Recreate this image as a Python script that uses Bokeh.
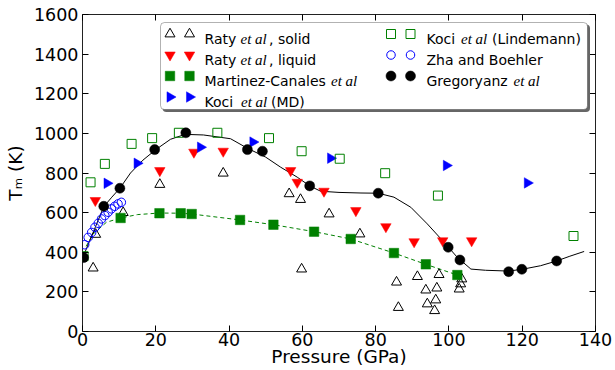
import numpy as np
from bokeh.plotting import figure
from bokeh.models import Range1d, LinearAxis, FixedTicker, BoxAnnotation, Label
from bokeh.embed import file_html
from bokeh.resources import INLINE

# ---------------- data ----------------
x_ticks = [0, 20, 40, 60, 80, 100, 120, 140]
y_ticks = [0, 200, 400, 600, 800, 1000, 1200, 1400, 1600]

raty_solid_p = [2.9, 3.6, 11.1, 21.1, 38.4, 56.4, 59.5, 59.8, 67.3, 75.7, 85.7, 86.2,
                91.4, 93.7, 94.1, 96.1, 96.4, 96.7, 97.3, 102.8, 103.2, 103.5]
raty_solid_t = [320, 490, 600, 742, 799, 695, 666, 315, 593, 492, 249, 121,
                277, 209, 139, 105, 159, 219, 287, 214, 240, 265]

raty_liquid_p = [3.5, 21.1, 30.4, 38.4, 56.8, 58.6, 65.9, 74.6, 82.8, 90.5, 98.3, 106.2]
raty_liquid_t = [661, 812, 905, 910, 812, 753, 708, 610, 529, 453, 458, 458]

martinez_p = [10.4, 21.0, 26.8, 29.8, 43.0, 52.1, 63.2, 73.2, 85.0, 93.7, 102.3]
martinez_t = [573, 597, 597, 593, 563, 539, 504, 467, 396, 339, 285]

martinez_fit_p = [1.0, 2.9, 6.5, 10.4, 15.0, 21.0, 26.8, 29.8, 43.0, 52.1, 63.2, 73.2, 85.0, 93.7, 102.3]
martinez_fit_t = [430, 492, 551, 573, 590, 598, 597, 593, 563, 539, 504, 467, 396, 339, 285]

koci_md_p = [6.7, 14.9, 32.2, 46.5, 67.7, 99.3, 121.4]
koci_md_t = [748, 849, 930, 956, 875, 838, 750]

koci_lind_p = [0.3, 2.2, 6.1, 13.4, 19.0, 26.3, 36.8, 50.9, 59.8, 70.2, 82.6, 97.0, 134.0]
koci_lind_t = [380, 753, 846, 947, 976, 1003, 1003, 976, 910, 872, 799, 686, 482]

zha_p = [0.6, 1.55, 2.5, 3.4, 4.3, 5.2, 6.1, 7.0, 7.9, 8.8, 9.7, 10.6]
zha_t = [438, 475, 500, 526, 546, 568, 585, 602, 619, 632, 644, 652]

greg_p = [0.3, 5.8, 10.2, 19.7, 28.2, 45.0, 49.1, 62.0, 80.7, 99.8, 103.0, 116.3, 119.9, 129.4]
greg_t = [373, 632, 723, 918, 1003, 918, 910, 735, 698, 425, 361, 302, 314, 356]

greg_fit_p = [0.0, 2.9, 5.8, 8.0, 10.2, 13.1, 16.5, 20.0, 24.0, 28.0, 33.0, 40.4, 45.0, 50.0,
              54.1, 58.6, 62.0, 65.0, 70.0, 76.0, 80.7, 85.0, 89.6, 94.1, 98.7, 102.3, 106.0,
              110.0, 116.3, 120.0, 125.0, 129.4, 133.0, 136.9]
greg_fit_t = [370, 500, 630, 678, 723, 800, 865, 918, 970, 995, 992, 973, 925, 880,
              829, 779, 735, 708, 702, 699, 698, 678, 627, 543, 450, 374, 315,
              309, 305, 314, 332, 356, 380, 404]

x_label = "Pressure (GPa)"
y_label = "T\u2098 (K)"

# ---------------- figure ----------------
W, H = 615, 370
p = figure(width=W, height=H, x_range=Range1d(0, 140), y_range=Range1d(0, 1600),
           output_backend="svg", toolbar_location=None,
           min_border_left=82, min_border_right=20, min_border_top=14, min_border_bottom=39)
p.grid.visible = False
p.outline_line_color = "#222222"
p.outline_line_width = 1
p.background_fill_color = "white"
p.border_fill_color = "white"

TICK_FONT = "17.5px"
for ax in (p.xaxis[0], p.yaxis[0]):
    ax.major_tick_in = 6
    ax.major_tick_out = 0
    ax.minor_tick_line_color = None
    ax.axis_line_color = None
    ax.major_tick_line_color = "black"
    ax.major_label_text_font = "DejaVu Sans"
    ax.major_label_text_font_size = TICK_FONT
    ax.major_label_text_color = "black"
    ax.axis_label_text_font = "DejaVu Sans"
    ax.axis_label_text_font_size = "18.5px"
    ax.axis_label_text_font_style = "normal"
    ax.axis_label_text_color = "black"
p.xaxis.ticker = FixedTicker(ticks=x_ticks)
p.yaxis.ticker = FixedTicker(ticks=y_ticks)
p.xaxis.major_label_standoff = 1
p.yaxis.major_label_standoff = 4
p.xaxis.axis_label = x_label
p.yaxis.axis_label = y_label
p.xaxis.axis_label_standoff = -3
p.yaxis.axis_label_standoff = 5

top_ax = LinearAxis(ticker=FixedTicker(ticks=x_ticks))
right_ax = LinearAxis(ticker=FixedTicker(ticks=y_ticks))
for ax in (top_ax, right_ax):
    ax.major_tick_in = 6
    ax.major_tick_out = 0
    ax.minor_tick_line_color = None
    ax.axis_line_color = None
    ax.major_label_text_font_size = "0px"
    ax.major_label_standoff = 0
    ax.major_label_text_alpha = 0
p.add_layout(top_ax, "above")
p.add_layout(right_ax, "right")

GREEN = "#008000"
BLUE = "#0000ff"
RED = "#ff0000"

# fit lines
p.line(martinez_fit_p, martinez_fit_t, line_color=GREEN, line_width=1, line_dash="4 3")
p.line(greg_fit_p, greg_fit_t, line_color="black", line_width=1)

# markers
st_solid = dict(marker="triangle", size=10, fill_color=None, line_color="black", line_width=1)
st_liq = dict(marker="inverted_triangle", size=10.5, fill_color=RED, line_color=RED, line_width=0.5)
st_mart = dict(marker="square", size=9.5, fill_color=GREEN, line_color=GREEN, line_width=0.5)
st_md = dict(marker="triangle", size=10.5, angle=-np.pi / 2, fill_color=BLUE, line_color=BLUE, line_width=0.5)
st_lind = dict(marker="square", size=9, fill_color=None, line_color=GREEN, line_width=1)
st_zha = dict(marker="circle", size=8.5, fill_color=None, line_color=BLUE, line_width=1)
st_greg = dict(marker="circle", size=10, fill_color="black", line_color="black", line_width=0.5)

p.scatter(raty_solid_p, raty_solid_t, **st_solid)
p.scatter(raty_liquid_p, raty_liquid_t, **st_liq)
p.scatter(martinez_p, martinez_t, **st_mart)
p.scatter(koci_md_p, koci_md_t, **st_md)
p.scatter(koci_lind_p, koci_lind_t, **st_lind)
p.scatter(zha_p, zha_t, **st_zha)
p.scatter(greg_p, greg_t, **st_greg)

# ---------------- helpers: screen position (reference pixels) -> data ----------------
FL, FR, FT, FB = 82.0, 595.0, 14.0, 331.0
def dx(px):
    return (px - FL) * 140.0 / (FR - FL)
def dy(py):
    return (FB - py) * 1600.0 / (FB - FT)

# ---------------- legend (manual, two columns, two points per entry) ----------------
p.add_layout(BoxAnnotation(left=dx(162), right=dx(589.5), top=dy(24), bottom=dy(111.5),
                           fill_color="#666666", fill_alpha=1, line_color=None, border_radius=4))
p.add_layout(BoxAnnotation(left=dx(160), right=dx(587), top=dy(22), bottom=dy(109),
                           fill_color="white", fill_alpha=1, line_color="black", line_width=1,
                           border_radius=4))

SANS = "DejaVu Sans"
SERIF = "Liberation Serif"
LFS = "14px"
EFS = "15px"

rows = [33.5, 54.5, 75.5, 96.5]
col1_m = [169.5, 189.0]
col2_m = [390.5, 410.0]

def leg_markers(xs, yrow, style):
    p.scatter([dx(x) for x in xs], [dy(yrow)] * len(xs), level="overlay", **style)

def txt(px, py, s, font=SANS, size=LFS, style="normal"):
    p.add_layout(Label(x=dx(px), y=dy(py), text=s, text_font=font, text_font_size=size,
                       text_font_style=style, text_align="left", text_baseline="alphabetic",
                       text_color="black", level="overlay"))

leg_markers(col1_m, rows[0], st_solid)
leg_markers(col1_m, rows[1], st_liq)
leg_markers(col1_m, rows[2], st_mart)
leg_markers(col1_m, rows[3], st_md)
leg_markers(col2_m, rows[0], st_lind)
leg_markers(col2_m, rows[1], st_zha)
leg_markers(col2_m, rows[2], st_greg)

b = [r + 4.6 for r in rows]
txt(204, b[0], "Raty"); txt(240, b[0], "et al", SERIF, EFS, "italic"); txt(268.5, b[0], ", solid")
txt(204, b[1], "Raty"); txt(240, b[1], "et al", SERIF, EFS, "italic"); txt(268.5, b[1], ", liquid")
txt(204, b[2], "Martinez-Canales"); txt(330.5, b[2], "et al", SERIF, EFS, "italic")
txt(204, b[3], "Koci"); txt(240.5, b[3], "et al", SERIF, EFS, "italic"); txt(270.5, b[3], "(MD)")
txt(426, b[0], "Koci"); txt(460.5, b[0], "et al", SERIF, EFS, "italic"); txt(491.5, b[0], "(Lindemann)")
txt(426, b[1], "Zha and Boehler")
txt(426, b[2], "Gregoryanz"); txt(513, b[2], "et al", SERIF, EFS, "italic")

open("out.html", "w").write(file_html(p, INLINE))
